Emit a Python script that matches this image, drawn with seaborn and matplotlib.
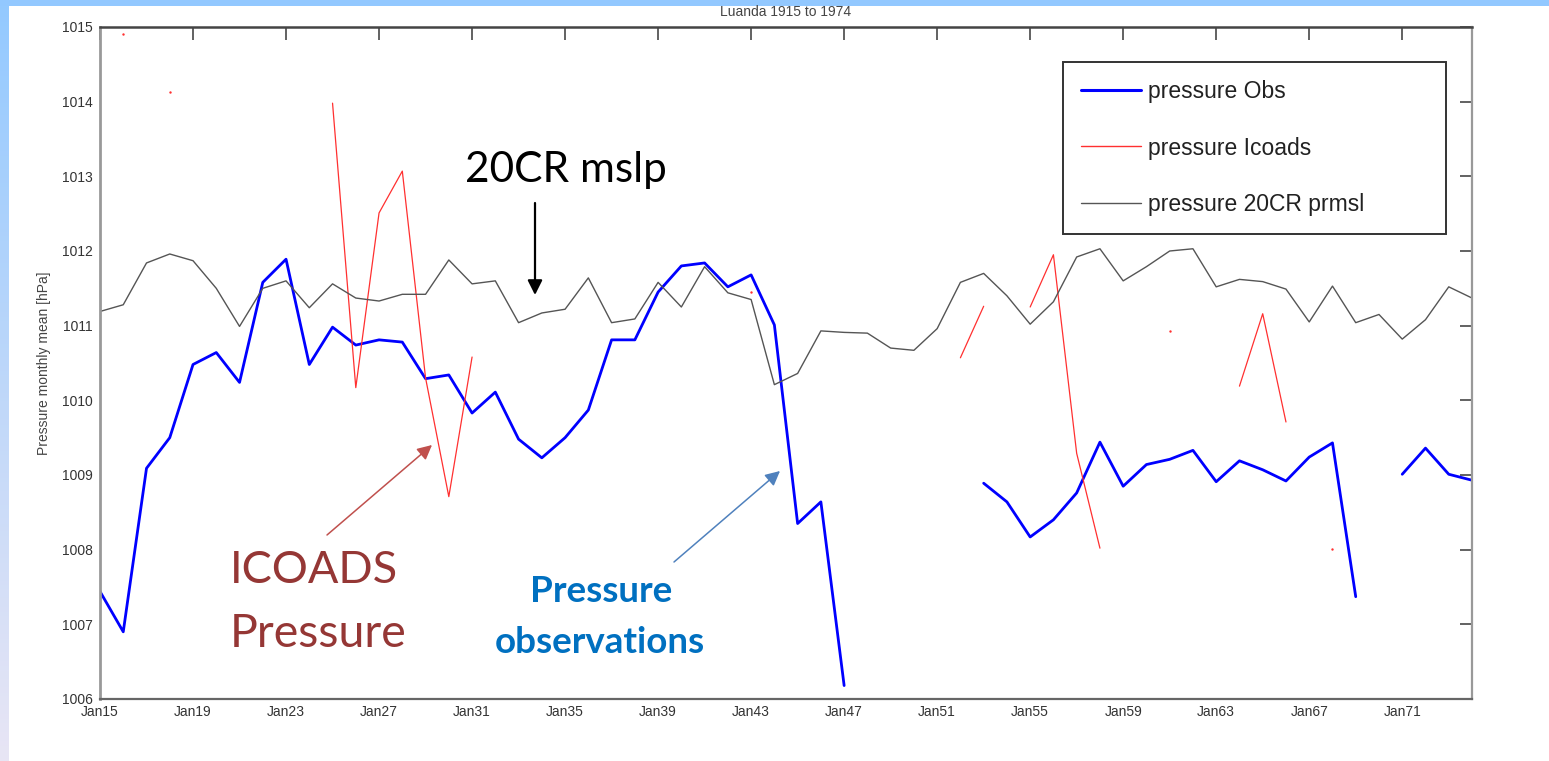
import numpy as np
import pandas as pd
import matplotlib
matplotlib.use("Agg")
import matplotlib.pyplot as plt
import seaborn as sns
from matplotlib.lines import Line2D
from matplotlib.patches import Rectangle

nan = np.nan

years = list(range(1915, 1975))

obs = [1007.44, 1006.90, 1009.09, 1009.50, 1010.48, 1010.64, 1010.24, 1011.58, 1011.89, 1010.48,
       1010.98, 1010.74, 1010.81, 1010.78, 1010.29, 1010.34, 1009.83, 1010.11, 1009.48, 1009.23,
       1009.50, 1009.87, 1010.81, 1010.81, 1011.45, 1011.80, 1011.84, 1011.52, 1011.68, 1011.01,
       1008.35, 1008.64, 1006.18, nan, nan, nan, nan, nan, 1008.89, 1008.64,
       1008.17, 1008.40, 1008.76, 1009.44, 1008.85, 1009.14, 1009.21, 1009.33, 1008.91, 1009.19,
       1009.07, 1008.92, 1009.24, 1009.43, 1007.37, nan, 1009.01, 1009.36, 1009.01, 1008.93]

icoads = [nan, 1014.90, nan, 1014.13, nan, nan, nan, nan, nan, nan,
          1013.98, 1010.17, 1012.51, 1013.07, 1010.30, 1008.71, 1010.58, nan, nan, nan,
          nan, nan, nan, nan, nan, nan, nan, nan, 1011.45, nan,
          nan, nan, nan, nan, nan, nan, nan, 1010.57, 1011.26, nan,
          1011.25, 1011.95, 1009.29, 1008.02, nan, nan, 1010.93, nan, nan, 1010.19,
          1011.16, 1009.71, nan, 1008.01, nan, nan, nan, nan, nan, nan]

cr20 = [1011.19, 1011.28, 1011.84, 1011.96, 1011.87, 1011.50, 1010.99, 1011.50, 1011.60, 1011.24,
        1011.56, 1011.37, 1011.33, 1011.42, 1011.42, 1011.88, 1011.56, 1011.60, 1011.04, 1011.17,
        1011.22, 1011.64, 1011.04, 1011.09, 1011.58, 1011.25, 1011.79, 1011.44, 1011.35, 1010.21,
        1010.36, 1010.93, 1010.91, 1010.90, 1010.70, 1010.67, 1010.96, 1011.58, 1011.70, 1011.40,
        1011.02, 1011.32, 1011.92, 1012.03, 1011.60, 1011.79, 1012.00, 1012.03, 1011.52, 1011.62,
        1011.59, 1011.49, 1011.05, 1011.53, 1011.04, 1011.15, 1010.82, 1011.08, 1011.52, 1011.37]

series_labels = ["pressure Obs", "pressure Icoads", "pressure 20CR prmsl"]
x_tick_years = [1915, 1919, 1923, 1927, 1931, 1935, 1939, 1943, 1947, 1951, 1955, 1959, 1963, 1967, 1971]
x_tick_labels = ["Jan15", "Jan19", "Jan23", "Jan27", "Jan31", "Jan35", "Jan39", "Jan43",
                 "Jan47", "Jan51", "Jan55", "Jan59", "Jan63", "Jan67", "Jan71"]
y_ticks = [1006, 1007, 1008, 1009, 1010, 1011, 1012, 1013, 1014, 1015]
title = "Luanda 1915 to 1974"
ylabel = "Pressure monthly mean [hPa]"


def segmented(xs, vals):
    df = pd.DataFrame({"year": xs, "p": vals})
    df["seg"] = df["p"].isna().cumsum()
    df = df.dropna()
    sizes = df.groupby("seg")["p"].transform("size")
    return df[sizes > 1], df[sizes == 1]


sns.set_theme(style="white")
plt.rcParams["font.family"] = ["Liberation Sans", "DejaVu Sans"]

W, H = 1549, 761
fig = plt.figure(figsize=(W / 100, H / 100), dpi=100)
fig.patch.set_facecolor("white")

# slide background decorations
fig.patches.append(Rectangle((0, 1 - 6 / H), 1, 6 / H, transform=fig.transFigure,
                             facecolor="#92C8FF", edgecolor="none", zorder=0))
strip = fig.add_axes([0, 0, 9 / W, 1 - 6 / H])
grad = np.linspace(0, 1, 256)[:, None]
top_c = np.array([0.58, 0.79, 1.0])
bot_c = np.array([0.91, 0.90, 0.96])
img = top_c[None, None, :] * (1 - grad[..., None]) + bot_c[None, None, :] * grad[..., None]
strip.imshow(img, aspect="auto", extent=[0, 1, 0, 1])
strip.set_axis_off()

ax = fig.add_axes([100 / W, 1 - 699 / H, 1372 / W, 672 / H])

c_obs, c_ico, c_cr = "#0000FF", "#FF3030", "#555555"

seg_obs, _ = segmented(years, obs)
sns.lineplot(data=seg_obs, x="year", y="p", units="seg", estimator=None, color=c_obs,
             lw=2.0, ax=ax, legend=False, sort=False)
seg_ico, single_ico = segmented(years, icoads)
sns.lineplot(data=seg_ico, x="year", y="p", units="seg", estimator=None, color=c_ico,
             lw=0.9, ax=ax, legend=False, sort=False)
sns.scatterplot(data=single_ico, x="year", y="p", color=c_ico, s=3, linewidth=0,
                ax=ax, legend=False)
seg_cr, _ = segmented(years, cr20)
sns.lineplot(data=seg_cr, x="year", y="p", units="seg", estimator=None, color=c_cr,
             lw=1.0, ax=ax, legend=False, sort=False)

ax.set_xlim(1915, 1974)
ax.set_ylim(1006, 1015)
ax.set_xticks(x_tick_years)
ax.set_xticklabels(x_tick_labels)
ax.set_yticks(y_ticks)
ax.set_yticklabels([str(v) for v in y_ticks])
ax.set_xlabel("")
ax.set_ylabel(ylabel, fontsize=10, color="#444444")
ax.yaxis.set_label_coords(-0.036, 0.5)
ax.tick_params(axis="both", direction="in", length=9, width=1.3, color="#555555",
               top=True, right=True, labelsize=10, labelcolor="#333333")
ax.tick_params(axis="x", pad=4)
ax.tick_params(axis="y", pad=5)
for side, col, lw in [("left", "#999999", 2.0), ("bottom", "#666666", 1.6),
                      ("top", "#444444", 1.8), ("right", "#999999", 1.6)]:
    ax.spines[side].set_visible(True)
    ax.spines[side].set_color(col)
    ax.spines[side].set_linewidth(lw)
ax.set_facecolor("white")

fig.text((100 + 1472) / 2 / W, 1 - 16 / H, title, ha="center", va="baseline",
         fontsize=10, color="#444444")

handles = [Line2D([], [], color=c_obs, lw=2.2),
           Line2D([], [], color=c_ico, lw=1.0),
           Line2D([], [], color=c_cr, lw=1.0)]
leg = ax.legend(handles, series_labels, loc="upper left",
                bbox_to_anchor=(0.702, 0.689, 0.279, 0.259), mode="expand",
                fontsize=16.5, handlelength=2.6, handletextpad=0.3, borderpad=0.8,
                labelspacing=1.45, fancybox=False, framealpha=1, borderaxespad=0)
leg.get_frame().set_edgecolor("#333333")
leg.get_frame().set_linewidth(1.4)
for t in leg.get_texts():
    t.set_color("#222222")

# slide annotations
def fx(x):
    return x / W


def fy(y):
    return 1 - y / H


slide_font = ["Lato", "DejaVu Sans"]
fig.text(fx(465), fy(182), "20CR mslp", fontsize=30.5, color="black",
         family=slide_font, ha="left", va="baseline")
fig.text(fx(230), fy(583), "ICOADS", fontsize=32.5, color="#953735",
         family=slide_font, ha="left", va="baseline")
fig.text(fx(230), fy(647), "Pressure", fontsize=33.5, color="#953735",
         family=slide_font, ha="left", va="baseline")
fig.text(fx(601), fy(602), "Pressure", fontsize=26.5, color="#0070C0", fontweight="bold",
         family=slide_font, ha="center", va="baseline")
fig.text(fx(600), fy(653), "observations", fontsize=26.5, color="#0070C0", fontweight="bold",
         family=slide_font, ha="center", va="baseline")

arrow_kw = dict(xycoords="figure fraction", textcoords="figure fraction")
ax.annotate("", xy=(fx(535), fy(295)), xytext=(fx(535), fy(203)),
            arrowprops=dict(arrowstyle="-|>", color="black", lw=1.6,
                            mutation_scale=22, shrinkA=0, shrinkB=0), **arrow_kw)
ax.annotate("", xy=(fx(432), fy(445)), xytext=(fx(327), fy(535)),
            arrowprops=dict(arrowstyle="-|>", color="#C0504D", lw=1.1,
                            mutation_scale=22, shrinkA=0, shrinkB=0), **arrow_kw)
ax.annotate("", xy=(fx(780), fy(471)), xytext=(fx(674), fy(562)),
            arrowprops=dict(arrowstyle="-|>", color="#4F81BD", lw=1.1,
                            mutation_scale=22, shrinkA=0, shrinkB=0), **arrow_kw)

fig.savefig("out.png", dpi=100)
